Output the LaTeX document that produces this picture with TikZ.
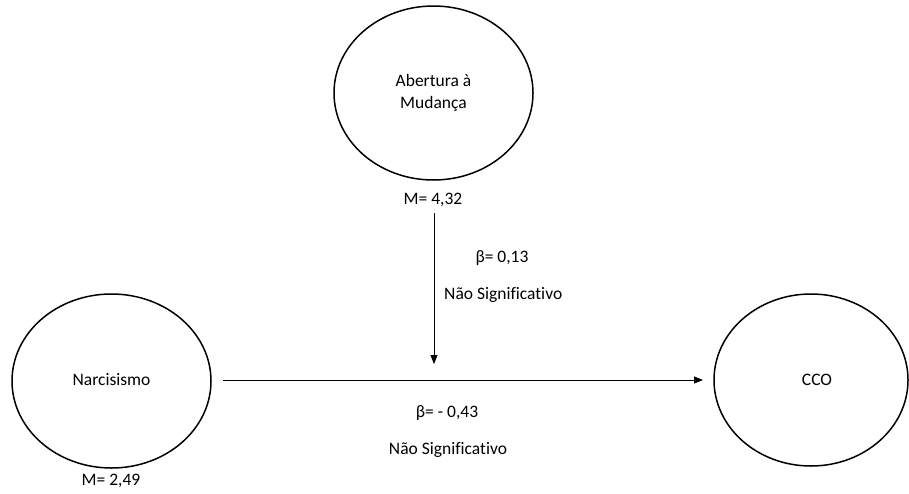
\documentclass[tikz,border=0pt]{standalone}
\usepackage{fontspec}
\setmainfont{Carlito}[Ligatures=NoCommon]
\usetikzlibrary{shapes.geometric,arrows.meta}
\begin{document}
\begin{tikzpicture}[x=1pt,y=-1pt,
  oval/.style={draw,ellipse,line width=1.5pt,minimum width=199pt,minimum height=174pt,inner sep=0pt,align=center},
  lbl/.style={font=\fontsize{17.5}{22}\selectfont,inner sep=0pt,align=center},
  conn/.style={line width=0.8pt,-{Triangle[length=9pt,width=7pt]}}]
\useasboundingbox (0,0) rectangle (909,493);
\node[oval] (am) at (433.5,93) {};
\node[lbl] (amt) at (433.5,93) {Abertura à\\Mudança};
\node[oval] (na) at (111.5,381) {};
\node[lbl] (nat) at (111.5,380) {Narcisismo};
\node[oval,minimum width=194pt,minimum height=172pt] (cc) at (811,380) {};
\node[lbl] (cct) at (817,380) {CCO};
\node[lbl] (m1) at (433,200) {M= 4,32};
\node[lbl] (m2) at (111,481) {M= 2,49};
\node[lbl] (b1) at (502,258) {β= 0,13};
\node[lbl,anchor=west] (s1) at (444,295) {Não Significativo};
\node[lbl] (b2) at (447,413) {β= - 0,43};
\node[lbl] (s2) at (448,450) {Não Significativo};
\coordinate (hs) at (223,380);
\coordinate (he) at (703,380);
\coordinate (vs) at (434,213);
\coordinate (ve) at (434,364);
\draw[conn] (hs) -- (he);
\draw[conn] (vs) -- (ve);
\end{tikzpicture}
\end{document}
